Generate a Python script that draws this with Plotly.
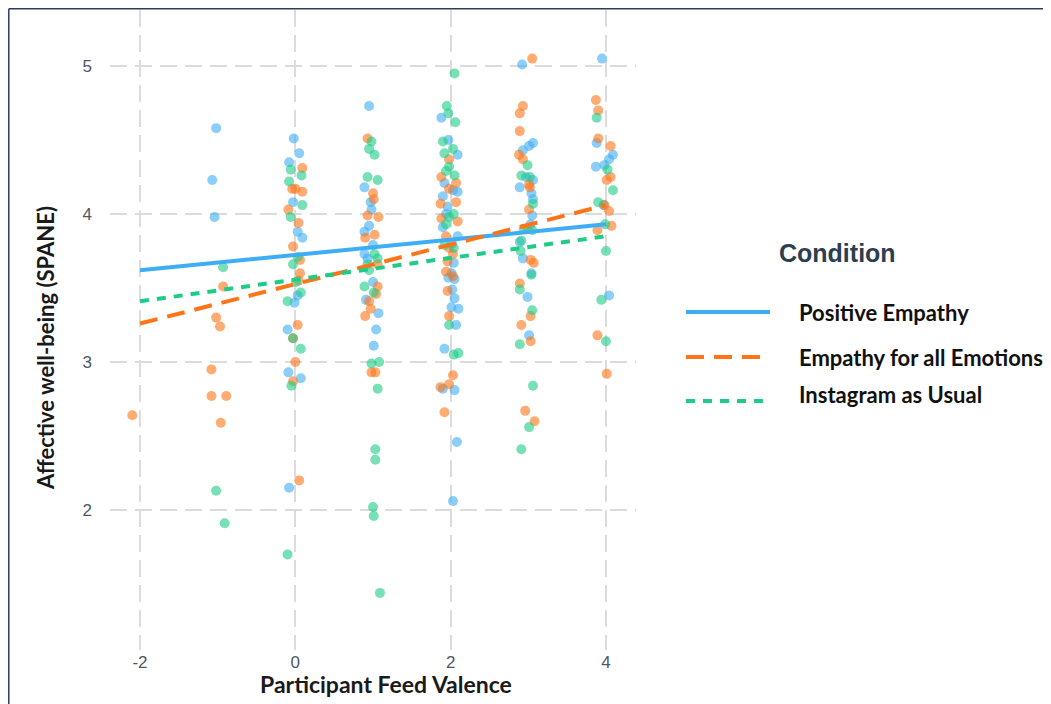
import plotly.graph_objects as go

# ---------------- data ----------------
conditions = ["Positive Empathy", "Empathy for all Emotions", "Instagram as Usual"]

pe_x = [-1.02, -1.07, -1.04,
        -0.02, 0.05, -0.08, -0.03, 0.03, 0.09, 0.03, -0.01, -0.10, -0.09, 0.07, -0.08,
        0.95, 0.89, 0.97, 0.98, 0.95, 0.89, 1.00, 0.89, 0.93, 1.00, 0.91, 1.07, 1.04, 1.01,
        1.88, 1.97, 2.09, 1.92, 2.03, 2.09, 1.90, 1.96, 1.94, 1.90, 2.09, 2.02, 2.04, 2.01, 1.97, 2.05,
        2.02, 2.05, 2.01, 2.10, 2.07, 1.92, 1.90, 2.05, 2.08, 2.03,
        2.92, 3.06, 3.01, 2.93, 2.97, 3.06, 2.89, 3.04, 3.06, 3.05, 3.03, 2.89, 2.93, 3.04, 2.99, 3.01,
        3.95, 3.88, 4.09, 4.04, 3.87, 3.98, 3.97, 4.04]
pe_y = [4.58, 4.23, 3.98,
        4.51, 4.41, 4.35, 4.08, 3.88, 3.84, 3.45, 3.40, 3.22, 2.93, 2.89, 2.15,
        4.73, 4.18, 4.08, 4.03, 3.92, 3.88, 3.79, 3.73, 3.70, 3.54, 3.42, 3.33, 3.22, 3.11,
        4.65, 4.50, 4.40, 4.21, 4.16, 4.15, 4.12, 4.05, 4.00, 3.91, 3.85, 3.80, 3.67, 3.60, 3.57, 3.56,
        3.49, 3.43, 3.37, 3.36, 3.25, 3.09, 2.82, 2.81, 2.46, 2.06,
        5.01, 4.48, 4.46, 4.43, 4.25, 4.23, 4.18, 4.14, 4.10, 3.99, 3.93, 3.81, 3.70, 3.60, 3.44, 3.18,
        5.05, 4.48, 4.40, 4.37, 4.32, 4.33, 4.06, 3.45]

ee_x = [-2.10,
        -0.93, -1.02, -0.97, -1.08, -1.08, -0.89, -0.96,
        0.09, -0.04, 0.00, 0.09, -0.09, 0.04, -0.03, 0.06, 0.06, 0.04, 0.03, -0.03, 0.00, -0.03, 0.05,
        0.93, 1.00, 1.01, 0.93, 1.07, 1.02, 0.90, 1.06, 1.06, 1.04, 0.95, 0.97, 0.90, 0.98, 1.03,
        1.98, 1.88, 2.07, 1.98, 1.87, 2.07, 1.88, 2.09, 1.94, 1.98, 2.03, 1.96, 1.94, 2.03, 1.96, 1.98,
        2.03, 1.98, 1.87, 1.92,
        3.05, 2.93, 2.89, 2.89, 2.88, 2.93, 3.01, 3.02, 3.01, 2.99, 3.03, 3.07, 2.89, 3.03, 2.91, 3.03,
        2.96, 3.08,
        3.87, 3.90, 3.90, 4.06, 4.06, 4.01, 3.98, 4.04, 4.07, 3.89, 3.89, 4.01]
ee_y = [2.64,
        3.51, 3.30, 3.24, 2.95, 2.77, 2.77, 2.59,
        4.31, 4.17, 4.17, 4.15, 4.03, 3.94, 3.78, 3.69, 3.60, 3.55, 3.25, 3.16, 3.00, 2.87, 2.20,
        4.51, 4.14, 4.10, 3.99, 3.98, 3.86, 3.84, 3.66, 3.51, 3.46, 3.41, 3.36, 3.31, 2.93, 2.93,
        4.37, 4.25, 4.21, 4.17, 4.07, 4.08, 3.97, 3.95, 3.85, 3.77, 3.73, 3.68, 3.61, 3.58, 3.48, 3.31,
        2.91, 2.85, 2.83, 2.66,
        5.05, 4.73, 4.68, 4.56, 4.40, 4.37, 4.20, 4.18, 4.03, 3.90, 3.69, 3.67, 3.53, 3.31, 3.25, 3.14,
        2.67, 2.60,
        4.77, 4.70, 4.51, 4.46, 4.25, 4.23, 4.06, 4.02, 3.92, 3.89, 3.18, 2.92]

iu_x = [-0.93, -1.02, -0.91,
        -0.06, 0.08, -0.08, 0.09, -0.06, 0.03, -0.03, 0.01, 0.07, -0.10, -0.03, 0.07, -0.05, -0.10,
        0.98, 0.95, 1.02, 0.93, 1.06, 1.02, 1.06, 0.93, 0.95, 0.89, 1.01, 0.98, 1.08, 1.06, 1.03, 1.03,
        1.00, 1.01, 1.09,
        2.05, 1.95, 1.97, 2.06, 1.90, 1.92, 2.03, 1.98, 1.94, 2.05, 2.04, 1.98, 1.94, 1.92, 2.04, 1.98,
        2.04, 2.10,
        2.99, 2.91, 3.02, 3.06, 2.94, 3.05, 2.91, 2.90, 3.04, 2.89, 3.05, 2.89, 3.06, 3.01, 2.91,
        3.88, 4.02, 4.09, 3.90, 3.99, 4.00, 3.94, 4.00]
iu_y = [3.64, 2.13, 1.91,
        4.30, 4.26, 4.22, 4.06, 3.98, 3.71, 3.66, 3.54, 3.47, 3.41, 3.16, 3.09, 2.84, 1.70,
        4.49, 4.44, 4.40, 4.25, 4.23, 3.73, 3.70, 3.66, 3.62, 3.51, 3.47, 2.99, 3.00, 2.82, 2.41, 2.34,
        2.02, 1.96, 1.44,
        4.95, 4.73, 4.68, 4.62, 4.49, 4.41, 4.44, 4.32, 4.29, 4.26, 4.00, 3.98, 3.93, 3.79, 3.77, 3.25,
        3.05, 3.06,
        4.33, 4.26, 4.25, 4.07, 3.90, 3.89, 3.82, 3.75, 3.59, 3.49, 3.35, 3.12, 2.84, 2.56, 2.41,
        4.65, 4.30, 4.16, 4.08, 3.93, 3.75, 3.42, 3.14]

# fitted regression lines (end points at x = -2 and x = 4)
fit_x = [-2, 4]
pe_fit = [3.62, 3.93]
ee_fit = [3.26, 4.06]
iu_fit = [3.41, 3.85]

x_ticks = [-2, 0, 2, 4]
y_ticks = [2, 3, 4, 5]

# ---------------- styling ----------------
colors = ["#3DAEF5", "#FF7418", "#1ECC86"]
dashes = ["solid", "18px,10px", "9px,8px"]

OFF = 8                    # page body margin in the browser
SW, SH = 1051, 704         # screenshot size
W, H = SW - OFF, SH - OFF  # figure size
L, R, T, B = 110, 636, 10, 650  # plot area in screenshot pixels


def px(xp):
    return (xp - L) / (R - L)


def py(yp):
    return (B - yp) / (B - T)


fig = go.Figure()

for xs, ys, c in [(pe_x, pe_y, colors[0]), (ee_x, ee_y, colors[1]), (iu_x, iu_y, colors[2])]:
    fig.add_trace(go.Scatter(x=xs, y=ys, mode="markers",
                             marker=dict(size=10, color=c, opacity=0.6, line=dict(width=0)),
                             showlegend=False, hoverinfo="x+y"))

for fy, c, d in zip([pe_fit, ee_fit, iu_fit], colors, dashes):
    fig.add_trace(go.Scatter(x=fit_x, y=fy, mode="lines",
                             line=dict(color=c, width=4, dash=d),
                             showlegend=False))

grid_c = "#DCDCDC"
tick_font = dict(family="Liberation Sans", size=17, color="#4D5766")
fig.update_xaxes(range=[-2 - (140 - L) / 77.6, 4 + (R - 606) / 77.6],
                 tickvals=x_ticks, ticktext=[str(v) for v in x_ticks],
                 showgrid=True, gridcolor=grid_c, gridwidth=2, griddash="17px,8px",
                 zeroline=False, showline=False, ticks="", tickfont=tick_font)
fig.update_yaxes(range=[2 - (B - 510) / 148, 5 + (66 - T) / 148],
                 tickvals=y_ticks, ticktext=[str(v) for v in y_ticks],
                 showgrid=True, gridcolor=grid_c, gridwidth=2, griddash="17px,8px",
                 zeroline=False, showline=False, ticks="", ticklabelstandoff=17,
                 tickfont=tick_font)

annotations = []
shapes = []
# axis titles
annotations.append(dict(text="<b>Participant Feed Valence</b>", x=px(386), y=py(684), xref="paper", yref="paper",
                        xanchor="center", yanchor="middle",
                        showarrow=False, font=dict(family="Lato", size=23, color="#1a1a1a")))
annotations.append(dict(text="<b>Affective well-being (SPANE)</b>", x=px(45), y=py(348), xref="paper", yref="paper",
                        xanchor="center", yanchor="middle",
                        showarrow=False, textangle=-90, font=dict(family="Lato", size=22, color="#1a1a1a")))
# legend title
annotations.append(dict(text="<b>Condition</b>", x=px(837), y=py(253), xref="paper", yref="paper",
                        xanchor="center", yanchor="middle",
                        showarrow=False, font=dict(family="Liberation Sans", size=25, color="#2C3E50")))
leg_line_y = [312, 357, 401]
leg_text_y = [312, 357, 394]
for name, c, d, ly, ty in zip(conditions, colors, dashes, leg_line_y, leg_text_y):
    shapes.append(dict(type="line", xref="paper", yref="paper", x0=px(686), x1=px(770), y0=py(ly), y1=py(ly),
                       line=dict(color=c, width=4, dash=d)))
    annotations.append(dict(text="<b>" + name + "</b>", x=px(797), y=py(ty), xref="paper", yref="paper",
                            xanchor="left", yanchor="middle", showarrow=False,
                            font=dict(family="Lato", size=22, color="#111111")))
# frame lines of the original image
shapes.append(dict(type="line", xref="paper", yref="paper", x0=px(8.8), x1=px(8.8), y0=py(8.8), y1=py(704),
                   line=dict(color="#2F3B5C", width=1.5)))
shapes.append(dict(type="line", xref="paper", yref="paper", x0=px(8.8), x1=px(1051), y0=py(8.8), y1=py(8.8),
                   line=dict(color="#2F3B5C", width=1.5)))

fig.update_layout(width=W, height=H,
                  margin=dict(l=L - OFF, r=SW - R, t=T - OFF, b=SH - B, autoexpand=False),
                  plot_bgcolor="white", paper_bgcolor="white",
                  annotations=annotations, shapes=shapes, showlegend=False)

fig.write_html("out.html")
